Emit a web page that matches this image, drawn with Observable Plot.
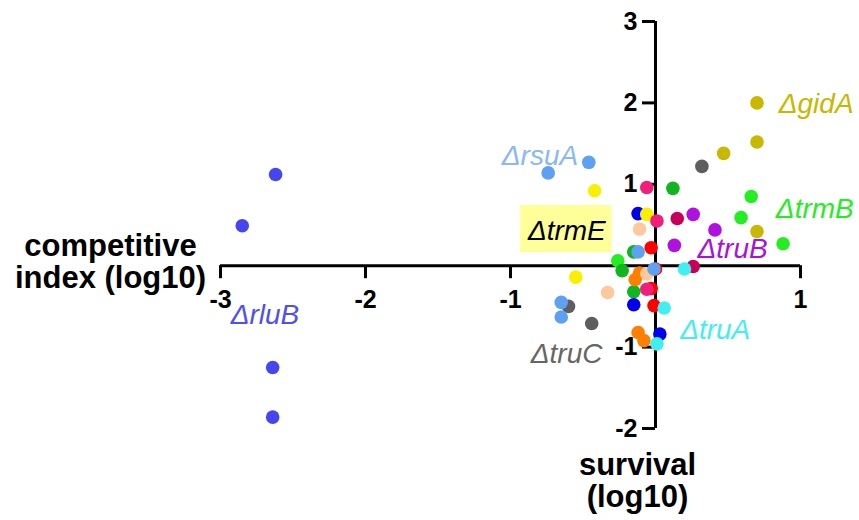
<!DOCTYPE html>
<html>
<head>
<meta charset="utf-8">
<script src="https://cdn.jsdelivr.net/npm/d3@7"></script>
<script src="https://cdn.jsdelivr.net/npm/@observablehq/plot@0.6"></script>
<style>
  html, body { margin: 0; padding: 0; background: #fff; }
  svg { font-family: "Liberation Sans", Arial, sans-serif; }
</style>
</head>
<body>
<div id="chart"></div>
<script>
// ---- data (survival log10 = x, competitive index log10 = y) ----
const rluB_x = [-2.62, -2.85, -2.64, -2.64];
const rluB_y = [1.12, 0.49, -1.25, -1.86];
const truC_x = [0.32, -0.60, -0.44];
const truC_y = [1.22, -0.50, -0.71];
const gidA_x = [0.70, 0.70, 0.47, 0.70];
const gidA_y = [2.00, 1.52, 1.38, 0.42];
const trmB_x = [0.66, 0.59, 0.88, -0.26];
const trmB_y = [0.85, 0.59, 0.27, 0.06];
const green_x = [0.12, -0.15, -0.23, -0.15];
const green_y = [0.95, 0.17, -0.06, -0.32];
const truB_x = [0.26, 0.41, 0.13];
const truB_y = [0.63, 0.44, 0.25];
const crimson_x = [0.15, 0.26];
const crimson_y = [0.58, -0.01];
const blue_x = [-0.12, -0.15, 0.03];
const blue_y = [0.64, -0.48, -0.84];
const yellow_x = [-0.42, -0.06, -0.55];
const yellow_y = [0.92, 0.63, -0.14];
const red_x = [-0.03, 0.00, -0.03, -0.01];
const red_y = [0.22, -0.04, -0.28, -0.49];
const pink_x = [-0.06, 0.01, -0.06];
const pink_y = [0.96, 0.55, -0.29];
const orange_x = [-0.11, -0.14, -0.12, -0.08];
const orange_y = [-0.09, -0.17, -0.82, -0.92];
const peach_x = [-0.11, -0.06, -0.33];
const peach_y = [0.45, -0.10, -0.33];
const truA_x = [0.20, 0.06, 0.01];
const truA_y = [-0.04, -0.52, -0.96];
const rsuA_x = [-0.46, -0.74, -0.12, -0.01, -0.65, -0.65];
const rsuA_y = [1.27, 1.14, 0.17, -0.04, -0.45, -0.63];

const seriesNames = ["rluB", "truC", "gidA", "trmB", "green", "truB", "crimson", "blue",
                     "yellow", "red", "pink", "orange", "peach", "truA", "rsuA"];
const seriesX = [rluB_x, truC_x, gidA_x, trmB_x, green_x, truB_x, crimson_x, blue_x,
                 yellow_x, red_x, pink_x, orange_x, peach_x, truA_x, rsuA_x];
const seriesY = [rluB_y, truC_y, gidA_y, trmB_y, green_y, truB_y, crimson_y, blue_y,
                 yellow_y, red_y, pink_y, orange_y, peach_y, truA_y, rsuA_y];

const xTicks = [-3, -2, -1, 1];
const xTickLabels = ["-3", "-2", "-1", "1"];
const yTicks = [-2, -1, 1, 2, 3];
const yTickLabels = ["-2", "-1", "1", "2", "3"];

const labelTexts = ["ΔgidA", "ΔtrmB", "ΔtruB", "ΔtruA", "ΔtruC", "ΔrluB", "ΔrsuA", "ΔtrmE"];
const labelSeries = ["gidA", "trmB", "truB", "truA", "truC", "rluB", "rsuA", "trmE"];
const labelX = [0.85, 0.83, 0.29, 0.17, -0.86, -2.93, -1.06, -0.88];
const labelY = [1.99, 0.70, 0.21, -0.79, -1.08, -0.61, 1.35, 0.43];
// highlight box behind ΔtrmE
const boxX = [-0.93, -0.30];
const boxY = [0.16, 0.74];

// axis titles, one entry per line
const yTitleLines = ["competitive", "index (log10)"];
const xTitleLines = ["survival", "(log10)"];

// ---- styles ----
const dotColor = {
  rluB: "#4545f2", truC: "#5e5e5e", gidA: "#c8b800", trmB: "#22ee22", green: "#10b520",
  truB: "#b010e0", crimson: "#c8005a", blue: "#0000ee", yellow: "#f8f000", red: "#ff0000",
  pink: "#f0207a", orange: "#ff8000", peach: "#fcc89c", truA: "#40f0f0", rsuA: "#5ea0f2"
};
const labelColor = {
  gidA: "#c8b800", trmB: "#22ee22", truB: "#aa10dd", truA: "#40f0f0", truC: "#666666",
  rluB: "#5050ee", rsuA: "#8ab8f0", trmE: "#000000"
};

const points = [];
seriesNames.forEach((s, i) => seriesX[i].forEach((x, j) => points.push({series: s, x, y: seriesY[i][j]})));
const labels = labelTexts.map((t, i) => ({text: t, series: labelSeries[i], x: labelX[i], y: labelY[i]}));

const W = 859, H = 520, mt = 21, mb = 92, ml = 220, mr = 59;
const pxPerY = (H - mt - mb) / 5;
const pxPerX = (W - ml - mr) / 4;
const tickLen = 13;
const titleLine = 32;

const chart = Plot.plot({
  width: W, height: H,
  marginTop: mt, marginBottom: mb, marginLeft: ml, marginRight: mr,
  x: {domain: [-3, 1], axis: null},
  y: {domain: [-2, 3], axis: null},
  marks: [
    Plot.rect([0], {x1: boxX[0], x2: boxX[1], y1: boxY[0], y2: boxY[1], fill: "#ffff99"}),
    // axes through origin
    Plot.ruleY([0], {x1: -3, x2: 1, stroke: "#000", strokeWidth: 3}),
    Plot.ruleX([0], {y1: -2, y2: 3, stroke: "#000", strokeWidth: 3}),
    Plot.ruleX(xTicks, {x: d => d, y1: 0, y2: -tickLen / pxPerY, stroke: "#000", strokeWidth: 3}),
    Plot.ruleY(yTicks, {y: d => d, x1: 0, x2: -tickLen / pxPerX, stroke: "#000", strokeWidth: 3}),
    Plot.text(xTicks, {x: d => d, y: 0, text: (d, i) => xTickLabels[i], dy: 34,
      fontSize: 25, fontWeight: "bold", fill: "#000"}),
    Plot.text(yTicks, {x: 0, y: d => d, text: (d, i) => yTickLabels[i], dx: -18, textAnchor: "end",
      fontSize: 25, fontWeight: "bold", fill: "#000"}),
    // dots
    Plot.dot(points, {x: "x", y: "y", r: 6.8, fill: d => dotColor[d.series], stroke: "none"}),
    // gene labels
    Plot.text(labels, {x: "x", y: "y", text: "text", textAnchor: "start", fontSize: 28,
      fontStyle: "italic", fill: d => labelColor[d.series]}),
    // axis titles (one mark per line)
    ...yTitleLines.map((t, i) => Plot.text([t], {x: -3, y: 0, text: d => d, dx: -110,
      dy: -20 + i * titleLine, textAnchor: "middle", fontSize: 31, fontWeight: "bold", fill: "#000"})),
    ...xTitleLines.map((t, i) => Plot.text([t], {x: 0, y: -2, text: d => d, dx: -18,
      dy: 37 + i * titleLine, textAnchor: "middle", fontSize: 31, fontWeight: "bold", fill: "#000"}))
  ]
});
document.getElementById("chart").appendChild(chart);
</script>
</body>
</html>
